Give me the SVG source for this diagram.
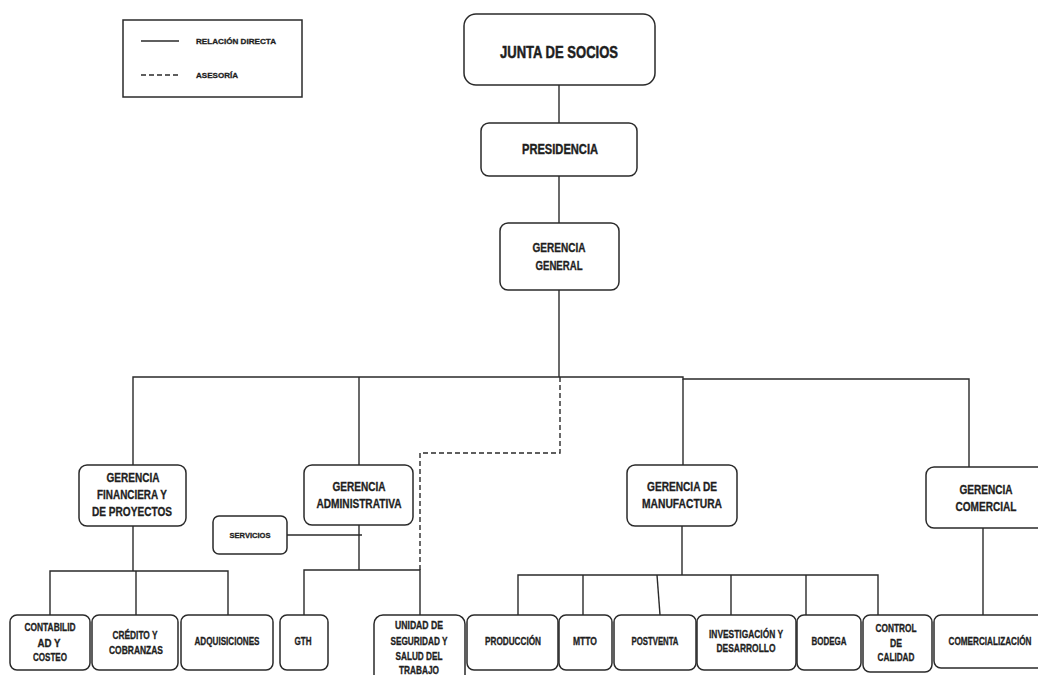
<svg xmlns="http://www.w3.org/2000/svg" width="1038" height="675" viewBox="0 0 1038 675">
  <style>
    .box { fill: #ffffff; stroke: #2a2a2a; stroke-width: 1.5; }
    .ln { fill: none; stroke: #2a2a2a; stroke-width: 1.4; }
    .dash { fill: none; stroke: #2a2a2a; stroke-width: 1.4; stroke-dasharray: 5 3; }
    text { font-family: "Liberation Sans", Arial, sans-serif; font-weight: bold; fill: #1e1e1e; stroke: #1e1e1e; stroke-width: 0.3; text-anchor: middle; }
    .t17 { font-size: 17px; stroke-width: 0.5; }
    .t14 { font-size: 14px; stroke-width: 0.4; }
    .t12 { font-size: 12px; }
    .t10 { font-size: 10px; }
    .t8 { font-size: 8px; }
    .lg { font-size: 8px; text-anchor: start; }
  </style>

  <rect width="1038" height="675" fill="#ffffff"/>

  <!-- legend -->
  <g id="legend">
    <rect x="123" y="20" width="179" height="77" fill="#ffffff" stroke="#2a2a2a" stroke-width="1.5"/>
    <line class="ln" x1="141" y1="41" x2="179" y2="41"/>
    <text class="lg" x="196" y="44" textLength="80" lengthAdjust="spacingAndGlyphs">RELACIÓN DIRECTA</text>
    <line class="dash" x1="141" y1="75" x2="179" y2="75" stroke-dasharray="3 1.5"/>
    <text class="lg" x="196" y="78" textLength="42" lengthAdjust="spacingAndGlyphs">ASESORÍA</text>
  </g>

  <!-- connectors -->
  <g id="connectors">
    <line class="ln" x1="559" y1="85" x2="559" y2="123"/>
    <line class="ln" x1="559" y1="176" x2="559" y2="223"/>
    <line class="ln" x1="559" y1="290" x2="559" y2="377"/>
    <polyline class="ln" points="133,465 133,377 683,377 683,379 969,379 969,467"/>
    <line class="ln" x1="359" y1="377" x2="359" y2="465"/>
    <line class="ln" x1="683" y1="379" x2="683" y2="465"/>
    <!-- advisory link -->
    <polyline class="dash" points="560,377 560,453 420,453 420,570"/>
    <!-- financiera -->
    <line class="ln" x1="133" y1="526" x2="133" y2="571"/>
    <polyline class="ln" points="50,615 50,571 228,571 228,615"/>
    <line class="ln" x1="136" y1="571" x2="136" y2="615"/>
    <!-- administrativa -->
    <line class="ln" x1="359" y1="525" x2="359" y2="570"/>
    <line class="ln" x1="287" y1="535" x2="362" y2="535"/>
    <polyline class="ln" points="304,615 304,570 420,570 420,615"/>
    <!-- manufactura -->
    <line class="ln" x1="682" y1="526" x2="682" y2="575"/>
    <polyline class="ln" points="518,615 518,575 878,575 878,615"/>
    <line class="ln" x1="583" y1="575" x2="583" y2="615"/>
    <line class="ln" x1="657" y1="575" x2="660" y2="615"/>
    <line class="ln" x1="731" y1="575" x2="731" y2="615"/>
    <line class="ln" x1="806" y1="575" x2="806" y2="615"/>
    <!-- comercial -->
    <line class="ln" x1="983" y1="528" x2="983" y2="615"/>
  </g>

  <g id="junta">
    <rect class="box" x="464" y="14" width="191" height="71" rx="12"/>
    <text class="t17" x="559" y="58" textLength="118" lengthAdjust="spacingAndGlyphs">JUNTA DE SOCIOS</text>
  </g>

  <g id="presidencia">
    <rect class="box" x="481" y="123" width="156" height="53" rx="8"/>
    <text class="t14" x="560" y="154" textLength="76" lengthAdjust="spacingAndGlyphs">PRESIDENCIA</text>
  </g>

  <g id="gerencia-general">
    <rect class="box" x="500" y="223" width="119" height="67" rx="8"/>
    <text class="t12" x="559" y="252" textLength="53" lengthAdjust="spacingAndGlyphs">GERENCIA</text>
    <text class="t12" x="559" y="270" textLength="47" lengthAdjust="spacingAndGlyphs">GENERAL</text>
  </g>

  <g id="gerencia-financiera">
    <rect class="box" x="79" y="465" width="107" height="61" rx="8"/>
    <text class="t12" x="133" y="482" textLength="53" lengthAdjust="spacingAndGlyphs">GERENCIA</text>
    <text class="t12" x="132" y="499" textLength="70" lengthAdjust="spacingAndGlyphs">FINANCIERA Y</text>
    <text class="t12" x="132" y="516" textLength="80" lengthAdjust="spacingAndGlyphs">DE PROYECTOS</text>
  </g>

  <g id="gerencia-administrativa">
    <rect class="box" x="304" y="465" width="109" height="60" rx="8"/>
    <text class="t12" x="359" y="491" textLength="53" lengthAdjust="spacingAndGlyphs">GERENCIA</text>
    <text class="t12" x="359" y="508" textLength="85" lengthAdjust="spacingAndGlyphs">ADMINISTRATIVA</text>
  </g>

  <g id="servicios">
    <rect class="box" x="213" y="516" width="74" height="38" rx="6"/>
    <text class="t8" x="250" y="538" textLength="41" lengthAdjust="spacingAndGlyphs">SERVICIOS</text>
  </g>

  <g id="gerencia-manufactura">
    <rect class="box" x="627" y="465" width="110" height="61" rx="8"/>
    <text class="t12" x="682" y="491" textLength="70" lengthAdjust="spacingAndGlyphs">GERENCIA DE</text>
    <text class="t12" x="682" y="508" textLength="80" lengthAdjust="spacingAndGlyphs">MANUFACTURA</text>
  </g>

  <g id="gerencia-comercial">
    <rect class="box" x="926" y="467" width="124" height="61" rx="8"/>
    <text class="t12" x="986" y="494" textLength="53" lengthAdjust="spacingAndGlyphs">GERENCIA</text>
    <text class="t12" x="986" y="511" textLength="61" lengthAdjust="spacingAndGlyphs">COMERCIAL</text>
  </g>

  <g id="contabilidad">
    <rect class="box" x="10" y="615" width="80" height="55" rx="7"/>
    <text class="t10" x="50" y="631" textLength="51" lengthAdjust="spacingAndGlyphs">CONTABILID</text>
    <text class="t10" x="49" y="647" textLength="23" lengthAdjust="spacingAndGlyphs">AD Y</text>
    <text class="t10" x="50" y="661" textLength="34" lengthAdjust="spacingAndGlyphs">COSTEO</text>
  </g>

  <g id="credito">
    <rect class="box" x="92" y="615" width="86" height="55" rx="7"/>
    <text class="t10" x="135" y="639" textLength="45" lengthAdjust="spacingAndGlyphs">CRÉDITO Y</text>
    <text class="t10" x="136" y="654" textLength="54" lengthAdjust="spacingAndGlyphs">COBRANZAS</text>
  </g>

  <g id="adquisiciones">
    <rect class="box" x="181" y="615" width="92" height="55" rx="7"/>
    <text class="t10" x="227" y="645" textLength="65" lengthAdjust="spacingAndGlyphs">ADQUISICIONES</text>
  </g>

  <g id="gth">
    <rect class="box" x="280" y="615" width="48" height="55" rx="7"/>
    <text class="t10" x="303" y="645" textLength="17" lengthAdjust="spacingAndGlyphs">GTH</text>
  </g>

  <g id="seguridad">
    <rect class="box" x="374" y="615" width="91" height="70" rx="9"/>
    <text class="t10" x="419" y="629" textLength="48" lengthAdjust="spacingAndGlyphs">UNIDAD DE</text>
    <text class="t10" x="419" y="645" textLength="57" lengthAdjust="spacingAndGlyphs">SEGURIDAD Y</text>
    <text class="t10" x="419" y="660" textLength="47" lengthAdjust="spacingAndGlyphs">SALUD DEL</text>
    <text class="t10" x="419" y="674" textLength="40" lengthAdjust="spacingAndGlyphs">TRABAJO</text>
  </g>

  <g id="produccion">
    <rect class="box" x="467" y="615" width="91" height="55" rx="7"/>
    <text class="t10" x="513" y="645" textLength="56" lengthAdjust="spacingAndGlyphs">PRODUCCIÓN</text>
  </g>

  <g id="mtto">
    <rect class="box" x="559" y="615" width="53" height="55" rx="7"/>
    <text class="t10" x="585" y="645" textLength="24" lengthAdjust="spacingAndGlyphs">MTTO</text>
  </g>

  <g id="postventa">
    <rect class="box" x="614" y="615" width="82" height="55" rx="7"/>
    <text class="t10" x="655" y="645" textLength="47" lengthAdjust="spacingAndGlyphs">POSTVENTA</text>
  </g>

  <g id="investigacion">
    <rect class="box" x="697" y="615" width="99" height="55" rx="7"/>
    <text class="t10" x="746" y="638" textLength="74" lengthAdjust="spacingAndGlyphs">INVESTIGACIÓN Y</text>
    <text class="t10" x="746" y="652" textLength="59" lengthAdjust="spacingAndGlyphs">DESARROLLO</text>
  </g>

  <g id="bodega">
    <rect class="box" x="797" y="615" width="64" height="55" rx="7"/>
    <text class="t10" x="829" y="645" textLength="35" lengthAdjust="spacingAndGlyphs">BODEGA</text>
  </g>

  <g id="control-calidad">
    <rect class="box" x="863" y="615" width="69" height="57" rx="7"/>
    <text class="t10" x="896" y="632" textLength="41" lengthAdjust="spacingAndGlyphs">CONTROL</text>
    <text class="t10" x="896" y="647" textLength="12" lengthAdjust="spacingAndGlyphs">DE</text>
    <text class="t10" x="896" y="661" textLength="37" lengthAdjust="spacingAndGlyphs">CALIDAD</text>
  </g>

  <g id="comercializacion">
    <rect class="box" x="934" y="615" width="116" height="53" rx="7"/>
    <text class="t10" x="990" y="645" textLength="83" lengthAdjust="spacingAndGlyphs">COMERCIALIZACIÓN</text>
  </g>
</svg>
